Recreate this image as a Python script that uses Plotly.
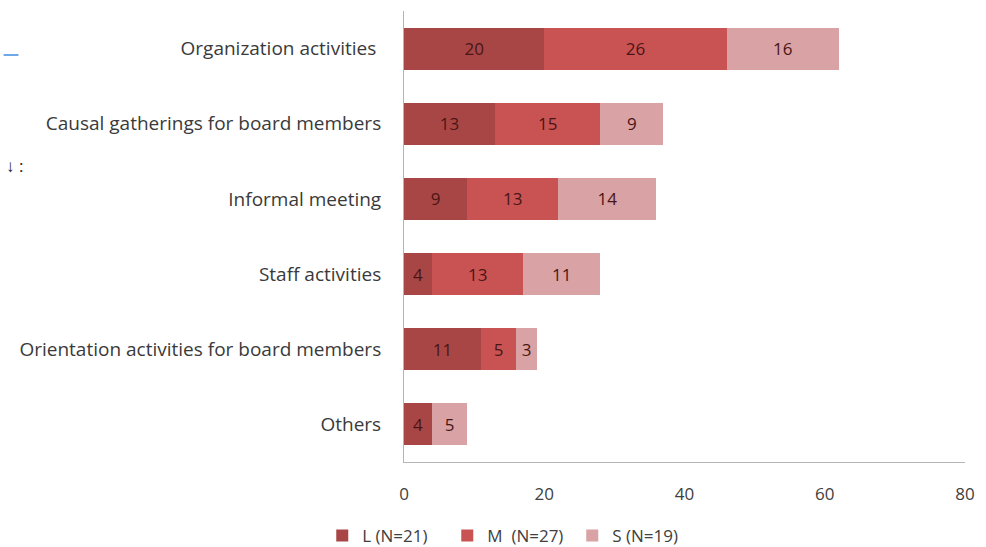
import plotly.graph_objects as go

# Categories listed bottom-to-top for the horizontal axis
categories = [
    "Others",
    "Orientation activities for board members",
    "Staff activities",
    "Informal meeting",
    "Causal gatherings for board members",
    "Organization activities ",
]
large = [4, 11, 4, 9, 13, 20]
medium = [None, 5, 13, 13, 15, 26]
small = [5, 3, 11, 14, 9, 16]

series = [
    ("L (N=21)", large, "#a84646"),
    ("M  (N=27)", medium, "#c95353"),
    ("S (N=19)", small, "#d9a2a4"),
]

FONT = "Open Sans"
fig = go.Figure()
for name, vals, color in series:
    fig.add_trace(go.Bar(
        y=categories, x=vals, name=name, orientation="h",
        marker=dict(color=color, line=dict(width=0)),
        text=[("" if v is None else str(v)) for v in vals],
        textposition="inside", insidetextanchor="middle",
        textfont=dict(family=FONT, size=17, color="#4a1515"),
        constraintext="none",
    ))

fig.update_layout(
    width=986, height=547,
    barmode="stack", bargap=0.44,
    plot_bgcolor="white", paper_bgcolor="white",
    margin=dict(l=404, r=16, t=11, b=85),
    font=dict(family=FONT, size=17, color="#3a3a3a"),
    showlegend=True,
    legend=dict(
        orientation="h", xref="container", yref="container",
        x=0.517, xanchor="center", y=0.02, yanchor="middle",
        font=dict(family=FONT, size=17, color="#404040"),
        traceorder="normal", entrywidth=80, entrywidthmode="pixels",
        itemwidth=30,
    ),
    uniformtext=dict(mode=False),
)
fig.update_xaxes(
    range=[0, 80], dtick=20, showgrid=False, zeroline=False,
    showline=True, linecolor="#b5b5b5", linewidth=1,
    ticks="outside", ticklen=17, tickcolor="rgba(0,0,0,0)",
    tickfont=dict(family=FONT, size=17, color="#404040"),
)
fig.update_yaxes(
    showgrid=False, zeroline=False,
    showline=True, linecolor="#b5b5b5", linewidth=1,
    ticks="outside", ticklen=18, tickcolor="rgba(0,0,0,0)",
    tickfont=dict(family=FONT, size=19, color="#3a3a3a"),
)

# thin blue rule and glyph at the left edge
fig.add_shape(type="line", xref="paper", yref="paper",
              x0=-404 / 566, x1=-389 / 566, y0=(462 - 55) / 451, y1=(462 - 55) / 451,
              line=dict(color="#6fa8e8", width=2))
fig.add_annotation(xref="paper", yref="paper", x=-404 / 566, y=(462 - 166) / 451,
                   text="\u2193 :", showarrow=False, xanchor="left",
                   font=dict(family=FONT, size=17, color="#222"))

fig.write_html("out.html")
